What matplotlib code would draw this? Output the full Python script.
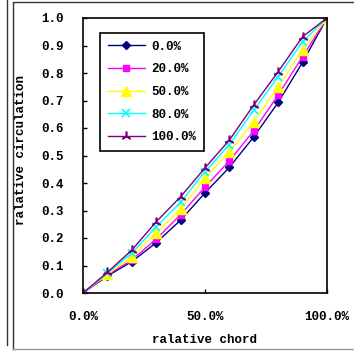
import matplotlib
matplotlib.use('agg')
import matplotlib.pyplot as plt
from matplotlib.lines import Line2D

# relative chord positions (%)
chord = [0, 10, 20, 30, 40, 50, 60, 70, 80, 90, 100]

# relative circulation for each case
c_0 = [0.0, 0.062, 0.114, 0.183, 0.265, 0.364, 0.457, 0.568, 0.693, 0.839, 1.0]
c_20 = [0.0, 0.066, 0.120, 0.196, 0.285, 0.385, 0.481, 0.590, 0.720, 0.860, 1.0]
c_50 = [0.0, 0.068, 0.132, 0.218, 0.305, 0.418, 0.514, 0.623, 0.750, 0.884, 1.0]
c_80 = [0.0, 0.072, 0.145, 0.241, 0.330, 0.441, 0.540, 0.665, 0.787, 0.914, 1.0]
c_100 = [0.0, 0.075, 0.156, 0.259, 0.350, 0.455, 0.556, 0.684, 0.805, 0.932, 1.0]

labels = ["0.0%", "20.0%", "50.0%", "80.0%", "100.0%"]
x_ticks = [0, 50, 100]
x_tick_labels = ["0.0%", "50.0%", "100.0%"]
y_ticks = [0.0, 0.1, 0.2, 0.3, 0.4, 0.5, 0.6, 0.7, 0.8, 0.9, 1.0]

plt.rcParams['font.family'] = ['Liberation Mono', 'DejaVu Sans Mono']
plt.rcParams['font.size'] = 9

fig = plt.figure(figsize=(3.54, 3.52), dpi=100)
W, H = 354, 352
ax = fig.add_axes([83 / W, 1 - 293 / H, 244 / W, 275 / H])

ax.plot(chord, c_0, color='#000080', marker='D', markersize=4.5, lw=1, label=labels[0])
ax.plot(chord, c_20, color='#FF00FF', marker='s', markersize=5, lw=1, label=labels[1])
ax.plot(chord, c_50, color='#FFFF00', marker='^', markersize=6.5, lw=1, label=labels[2])
ax.plot(chord, c_80, color='#00FFFF', marker='x', markersize=6, mew=1.2, lw=1, label=labels[3])
ax.plot(chord, c_100, color='#800080', marker=(3, 2, 0), markersize=7, mew=1.2, lw=1, label=labels[4])

ax.set_xlim(0, 100)
ax.set_ylim(0, 1.0)
ax.set_xticks(x_ticks)
ax.set_xticklabels(x_tick_labels, fontweight='bold')
ax.set_yticks(y_ticks)
ax.set_yticklabels(["%.1f" % v for v in y_ticks], fontweight='bold')
ax.tick_params(direction='in', length=3, width=1, pad=14)
ax.tick_params(axis='x', pad=13)
for s in ax.spines.values():
    s.set_linewidth(1.2)

ax.set_xlabel("ralative chord", fontweight='bold', labelpad=8)
ax.set_ylabel("ralative circulation", fontweight='bold')
ax.yaxis.set_label_coords(-0.228, 0.52)

leg = ax.legend(loc='upper left', bbox_to_anchor=(0.07, 0.945), borderaxespad=0,
                fancybox=False, edgecolor='black', framealpha=1, handlelength=3.0,
                handletextpad=0.5, labelspacing=0.85, borderpad=0.6,
                prop={'weight': 'bold', 'size': 9})
leg.get_frame().set_linewidth(1.2)

# outer frames
fig.add_artist(Line2D([7 / W, 7 / W], [1, 1 - 345 / H], color='#333333', lw=1))
fig.add_artist(Line2D([13 / W, 13 / W, 1], [1 - 349 / H, 1 - 2 / H, 1 - 2 / H], color='#333333', lw=1))
fig.add_artist(Line2D([13 / W, 1], [1 - 349 / H, 1 - 349 / H], color='#999999', lw=1))

fig.savefig("out.png", dpi=100)
